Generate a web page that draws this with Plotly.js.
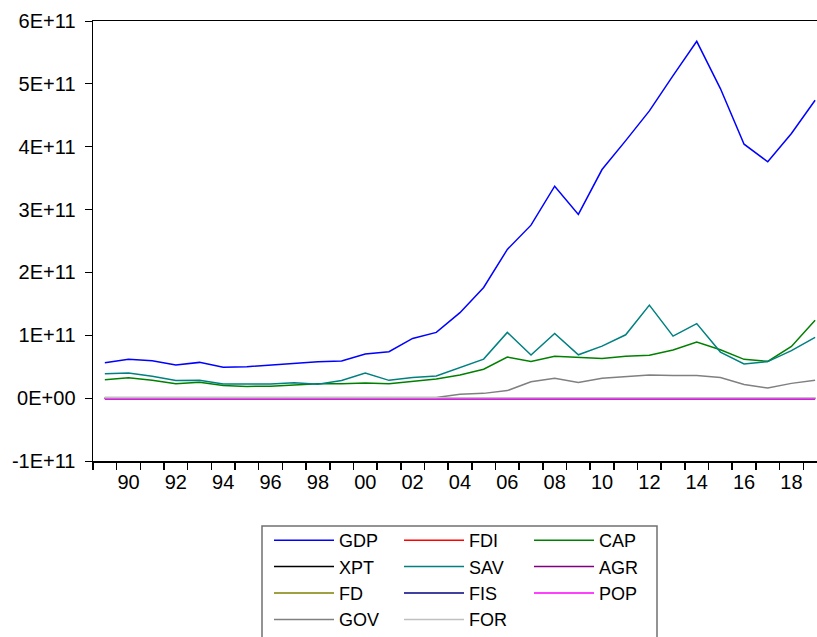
<!DOCTYPE html>
<html>
<head>
<meta charset="utf-8">
<script src="https://cdn.plot.ly/plotly-3.0.1.min.js"></script>
<style>html,body{margin:0;padding:0;background:#fff;}#chart{width:817px;height:637px;}</style>
</head>
<body>
<div id="chart"></div>
<script>
const years = [1989,1990,1991,1992,1993,1994,1995,1996,1997,1998,1999,2000,2001,2002,2003,2004,2005,2006,2007,2008,2009,2010,2011,2012,2013,2014,2015,2016,2017,2018,2019];

const GDP = [0.563e11,0.617e11,0.595e11,0.526e11,0.569e11,0.490e11,0.500e11,0.530e11,0.558e11,0.579e11,0.590e11,0.703e11,0.738e11,0.950e11,1.046e11,1.360e11,1.760e11,2.366e11,2.752e11,3.372e11,2.922e11,3.637e11,4.097e11,4.570e11,5.130e11,5.677e11,4.925e11,4.040e11,3.760e11,4.210e11,4.740e11];
const FDI = [0,0,0,0,0,0,0,0,0,0,0,0,0,0,0,0,0,0,0,0,0,0,0,0,0,0,0,0,0,0,0];
const CAP = [0.293e11,0.325e11,0.283e11,0.229e11,0.251e11,0.203e11,0.187e11,0.190e11,0.210e11,0.229e11,0.227e11,0.240e11,0.229e11,0.262e11,0.306e11,0.367e11,0.460e11,0.653e11,0.585e11,0.666e11,0.645e11,0.632e11,0.666e11,0.683e11,0.765e11,0.892e11,0.770e11,0.617e11,0.585e11,0.822e11,1.240e11];
const XPT = [0,0,0,0,0,0,0,0,0,0,0,0,0,0,0,0,0,0,0,0,0,0,0,0,0,0,0,0,0,0,0];
const SAV = [0.388e11,0.400e11,0.348e11,0.280e11,0.285e11,0.226e11,0.226e11,0.226e11,0.245e11,0.222e11,0.280e11,0.400e11,0.283e11,0.330e11,0.351e11,0.487e11,0.621e11,1.046e11,0.685e11,1.030e11,0.690e11,0.828e11,1.008e11,1.480e11,0.987e11,1.186e11,0.733e11,0.545e11,0.582e11,0.755e11,0.967e11];
const AGR = [-1.2e9,-1.2e9,-1.2e9,-1.2e9,-1.2e9,-1.2e9,-1.2e9,-1.2e9,-1.2e9,-1.2e9,-1.2e9,-1.2e9,-1.2e9,-1.2e9,-1.2e9,-1.2e9,-1.2e9,-1.2e9,-1.2e9,-1.2e9,-1.2e9,-1.2e9,-1.2e9,-1.2e9,-1.2e9,-1.2e9,-1.2e9,-1.2e9,-1.2e9,-1.2e9,-1.2e9];
const FD  = [0,0,0,0,0,0,0,0,0,0,0,0,0,0,0,0,0,0,0,0,0,0,0,0,0,0,0,0,0,0,0];
const FIS = [0,0,0,0,0,0,0,0,0,0,0,0,0,0,0,0,0,0,0,0,0,0,0,0,0,0,0,0,0,0,0];
const POP = [-1.2e9,-1.2e9,-1.2e9,-1.2e9,-1.2e9,-1.2e9,-1.2e9,-1.2e9,-1.2e9,-1.2e9,-1.2e9,-1.2e9,-1.2e9,-1.2e9,-1.2e9,-1.2e9,-1.2e9,-1.2e9,-1.2e9,-1.2e9,-1.2e9,-1.2e9,-1.2e9,-1.2e9,-1.2e9,-1.2e9,-1.2e9,-1.2e9,-1.2e9,-1.2e9,-1.2e9];
const GOV = [1e9,1e9,1e9,1e9,1e9,1e9,1e9,1e9,1e9,1e9,1e9,1e9,1e9,1e9,1e9,0.062e11,0.076e11,0.120e11,0.260e11,0.315e11,0.251e11,0.318e11,0.347e11,0.367e11,0.362e11,0.362e11,0.327e11,0.216e11,0.160e11,0.235e11,0.285e11];
const FOR = [5e8,5e8,5e8,5e8,5e8,5e8,5e8,5e8,5e8,5e8,5e8,5e8,5e8,5e8,5e8,5e8,5e8,5e8,5e8,5e8,5e8,5e8,5e8,5e8,5e8,5e8,5e8,5e8,5e8,5e8,5e8];

const seriesNames = ['GDP','FDI','CAP','XPT','SAV','AGR','FD','FIS','POP','GOV','FOR'];
const seriesData  = [GDP, FDI, CAP, XPT, SAV, AGR, FD, FIS, POP, GOV, FOR];
const seriesColors = ['#0000FF','#FF0000','#008000','#000000','#008080','#800080','#808000','#000080','#FF00FF','#808080','#C0C0C0'];
// legend column of each series (legend reads row by row, three columns)
const legendColumn = ['c1','c2','c3','c1','c2','c3','c1','c2','c3','c1','c2'];

const xTickVals = [1990,1992,1994,1996,1998,2000,2002,2004,2006,2008,2010,2012,2014,2016,2018];
const xTickText = ['90','92','94','96','98','00','02','04','06','08','10','12','14','16','18'];
const yTickVals = [-1e11,0,1e11,2e11,3e11,4e11,5e11,6e11];
const yTickText = ['-1E+11','0E+00','1E+11','2E+11','3E+11','4E+11','5E+11','6E+11'];

const boundaries = years.map(y => y - 0.5);

const traces = seriesNames.map((n, i) => ({
  type: 'scatter', mode: 'lines', name: n,
  legendgroup: legendColumn[i],
  x: years, y: seriesData[i],
  line: {color: seriesColors[i], width: 1.5}
}));

const FONT = 'Liberation Sans, Arial, sans-serif';
// plot area in px: left 93, right 817, top 21, bottom 461
const PL = 93, PR = 817, PT = 21, PB = 461;
const px2paperX = v => (v - PL) / (PR - PL);
const px2paperY = v => (PB - v) / (PB - PT);

const layout = {
  width: 817, height: 637,
  margin: {l: PL, r: 817 - PR, t: PT, b: 637 - PB},
  paper_bgcolor: '#fff', plot_bgcolor: '#fff',
  font: {family: FONT, size: 20, color: '#000'},
  showlegend: true,
  xaxis: {
    range: [1988.5, 2019.08],
    showline: true, mirror: true, linecolor: '#000', linewidth: 1.5,
    showgrid: false, zeroline: false,
    tickmode: 'array', tickvals: xTickVals, ticktext: xTickText,
    ticks: 'outside', ticklen: 2, tickcolor: 'rgba(0,0,0,0)',
    tickfont: {family: FONT, size: 20, color: '#000'},
    minor: {tickvals: boundaries, ticks: 'outside', ticklen: 7, tickcolor: '#000', tickwidth: 1.5, showgrid: false},
    fixedrange: true
  },
  yaxis: {
    range: [-1e11, 6e11],
    showline: true, linecolor: '#000', linewidth: 1.5,
    showgrid: false, zeroline: false,
    tickmode: 'array', tickvals: yTickVals, ticktext: yTickText,
    ticks: 'outside', ticklen: 7, tickcolor: '#000', tickwidth: 1,
    ticklabelstandoff: 5,
    tickfont: {family: FONT, size: 20, color: '#000'},
    fixedrange: true
  },
  shapes: [{
    type: 'rect', xref: 'paper', yref: 'paper', layer: 'above',
    x0: px2paperX(262), x1: px2paperX(657),
    y0: px2paperY(526), y1: px2paperY(660),
    line: {color: '#707070', width: 1.5}, fillcolor: 'rgba(0,0,0,0)'
  }],
  legend: {
    orientation: 'h',
    xref: 'container', yref: 'container',
    x: 269/817, y: 1 - 522/637, xanchor: 'left', yanchor: 'top',
    borderwidth: 0,
    bgcolor: 'rgba(0,0,0,0)',
    font: {family: FONT, size: 18, color: '#000'},
    entrywidth: 55, entrywidthmode: 'pixels',
    itemwidth: 60,
    tracegroupgap: 0,
    traceorder: 'grouped'
  }
};

Plotly.newPlot('chart', traces, layout, {staticPlot: true, displayModeBar: false});
</script>
</body>
</html>
